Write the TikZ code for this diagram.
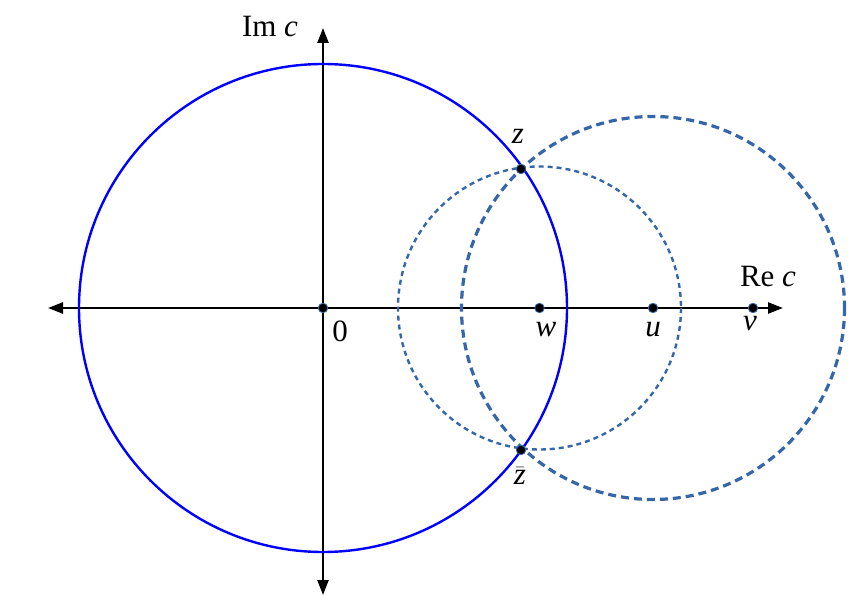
\documentclass[tikz,border=0pt]{standalone}
\usepackage{fontspec}
\setmainfont{Liberation Serif}
\usetikzlibrary{arrows.meta}
\definecolor{cblue}{RGB}{0,0,255}
\definecolor{sblue}{RGB}{54,102,170}
\begin{document}
\begin{tikzpicture}[x=1pt,y=-1pt,
  axis/.style={line width=2.4pt,black,{Triangle[length=15pt,width=11pt]}-{Triangle[length=15pt,width=11pt]}},
  maincirc/.style={line width=2.4pt,cblue},
  smallcirc/.style={line width=2.4pt,sblue,dash pattern=on 5pt off 4pt},
  bigcirc/.style={line width=3.2pt,sblue,dash pattern=on 8pt off 5pt},
  pt/.style={circle,fill=black,draw=sblue,line width=0.8pt,minimum size=9.5pt,inner sep=0pt},
  lab/.style={inner sep=0pt,font=\fontsize{31}{36}\selectfont}]
\useasboundingbox (0,0) rectangle (855,612);
\coordinate (xl) at (48,308);
\coordinate (xr) at (783,308);
\coordinate (yt) at (323,28);
\coordinate (yb) at (323,595);
\draw[axis] (xl) -- (xr);
\draw[axis] (yb) -- (yt);
\coordinate (O) at (323,308);
\coordinate (W) at (539.5,308);
\coordinate (U) at (653,308);
\draw[maincirc] (O) circle[radius=244];
\draw[smallcirc] (W) circle[radius=141.5];
\draw[bigcirc] (U) circle[radius=191.5];
\node[pt] (o) at (323,308) {};
\node[pt] (w) at (539.5,308) {};
\node[pt] (u) at (653,308) {};
\node[pt] (v) at (753,308) {};
\node[pt] (z) at (521,169) {};
\node[pt] (zb) at (521,450) {};
\node[lab] (lim) at (270,27) {Im \textit{c}};
\node[lab] (lre) at (768,277) {Re \textit{c}};
\node[lab] (l0) at (340,331) {0};
\node[lab] (lw) at (546,330) {\textit{w}};
\node[lab] (lu) at (653,330) {\textit{u}};
\node[lab] (lv) at (750,324) {\textit{v}};
\node[lab] (lz) at (518,136) {\textit{z}};
\node[lab,anchor=base] (lzb) at (520,485) {$\bar{\mbox{\fontsize{31}{36}\selectfont\itshape z}}$};
\end{tikzpicture}
\end{document}
